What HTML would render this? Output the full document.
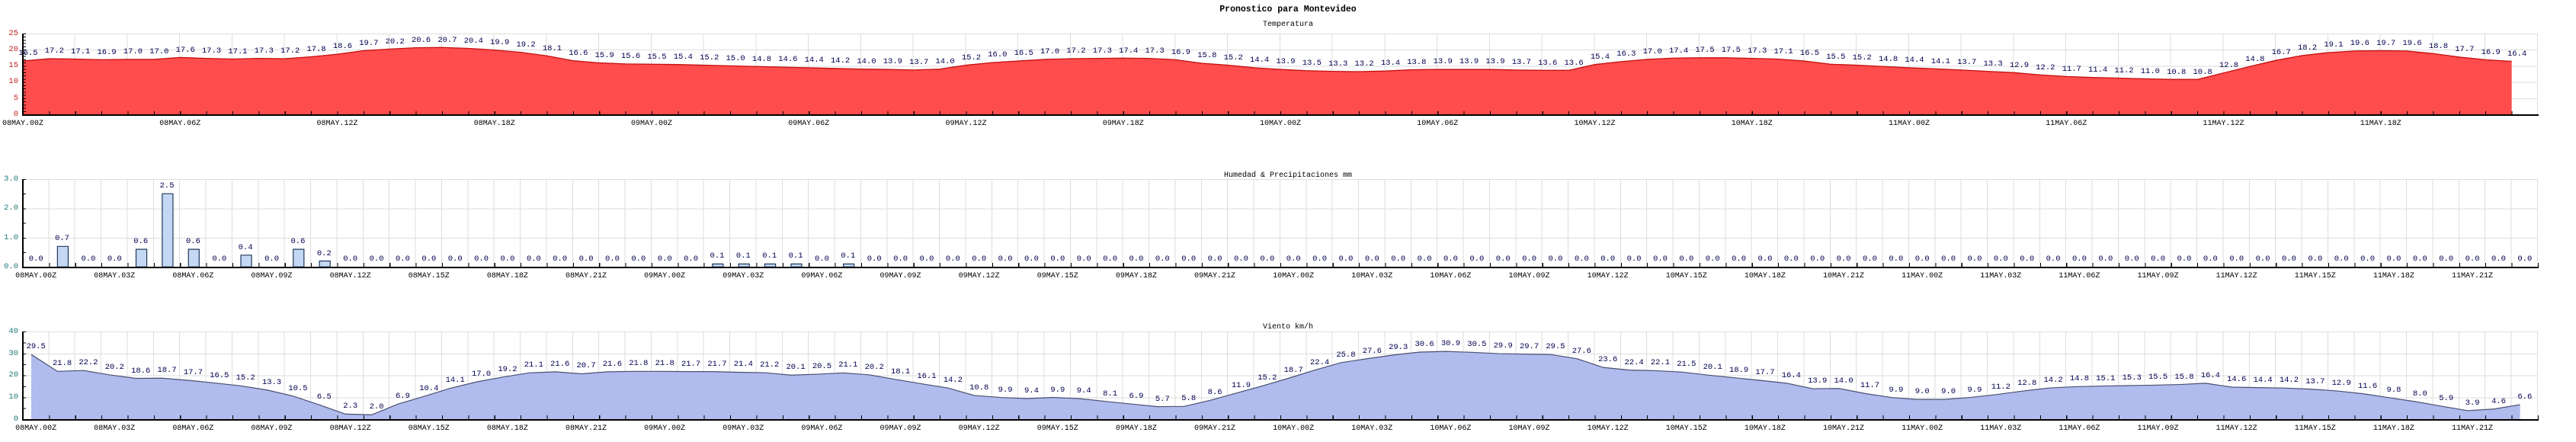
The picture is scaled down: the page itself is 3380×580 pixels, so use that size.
<!DOCTYPE html>
<html><head><meta charset="utf-8"><style>
body{margin:0;background:#fff;width:3380px;height:580px;overflow:hidden;position:relative;font-family:"Liberation Mono","DejaVu Sans Mono",monospace;}
.a{position:absolute}
.row{position:absolute;top:0;display:flex;height:0;font-size:10.5px;line-height:12px;color:#000050}
.row i{font-style:normal;flex:none;width:34.375px;text-align:center;position:relative;top:calc(var(--b) - var(--v)*var(--k));white-space:nowrap}
.xl{position:absolute;display:flex;font-size:10px;line-height:12px;color:#000}
.xl span{flex:none;text-align:center;white-space:nowrap}
.yl{position:absolute;width:24px;left:0;text-align:right;font-size:10.5px;line-height:12px}
.ttl{position:absolute;left:0;width:3380px;text-align:center;color:#000}
</style></head><body>
<div class="ttl" style="top:6px;font-weight:bold;font-size:11.5px;line-height:14px">Pronostico para Montevideo</div>
<div class="ttl" style="top:27px;font-size:10px;line-height:12px">Temperatura</div>
<div class="ttl" style="top:225px;font-size:10px;line-height:12px">Humedad &amp; Precipitaciones mm</div>
<div class="ttl" style="top:424px;font-size:10px;line-height:12px">Viento km/h</div>

<!-- grids -->
<div class="a" style="left:30px;top:43.5px;width:3300px;height:107px;background:repeating-linear-gradient(to right,transparent 0 67.75px,#ddd 67.75px 68.75px),repeating-linear-gradient(to bottom,#ddd 0 1px,transparent 1px 21.2px)"></div>
<div class="a" style="left:30px;top:235px;width:3300px;height:115.5px;background:repeating-linear-gradient(to right,transparent 0 33.375px,#ddd 33.375px 34.375px),repeating-linear-gradient(to bottom,#ddd 0 1px,transparent 1px 38.4px)"></div>
<div class="a" style="left:30px;top:435px;width:3300px;height:115.5px;background:repeating-linear-gradient(to right,transparent 0 33.375px,#ddd 33.375px 34.375px),repeating-linear-gradient(to bottom,#ddd 0 1px,transparent 1px 28.75px)"></div>

<!-- temperature series -->
<svg class="a" style="left:30px;top:44.3px" width="3300" height="106" viewBox="0 0 96 25" preserveAspectRatio="none">
<g transform="translate(0,25) scale(1,-1)">
<polygon fill="#ff4c4c" points="0,0 0,16.5 1,17.2 2,17.1 3,16.9 4,17.0 5,17.0 6,17.6 7,17.3 8,17.1 9,17.3 10,17.2 11,17.8 12,18.6 13,19.7 14,20.2 15,20.6 16,20.7 17,20.4 18,19.9 19,19.2 20,18.1 21,16.6 22,15.9 23,15.6 24,15.5 25,15.4 26,15.2 27,15.0 28,14.8 29,14.6 30,14.4 31,14.2 32,14.0 33,13.9 34,13.7 35,14.0 36,15.2 37,16.0 38,16.5 39,17.0 40,17.2 41,17.3 42,17.4 43,17.3 44,16.9 45,15.8 46,15.2 47,14.4 48,13.9 49,13.5 50,13.3 51,13.2 52,13.4 53,13.8 54,13.9 55,13.9 56,13.9 57,13.7 58,13.6 59,13.6 60,15.4 61,16.3 62,17.0 63,17.4 64,17.5 65,17.5 66,17.3 67,17.1 68,16.5 69,15.5 70,15.2 71,14.8 72,14.4 73,14.1 74,13.7 75,13.3 76,12.9 77,12.2 78,11.7 79,11.4 80,11.2 81,11.0 82,10.8 83,10.8 84,12.8 85,14.8 86,16.7 87,18.2 88,19.1 89,19.6 90,19.7 91,19.6 92,18.8 93,17.7 94,16.9 95,16.4 95,0"/>
<polyline fill="none" stroke="#c41010" stroke-width="1.3" vector-effect="non-scaling-stroke" points="0,16.5 1,17.2 2,17.1 3,16.9 4,17.0 5,17.0 6,17.6 7,17.3 8,17.1 9,17.3 10,17.2 11,17.8 12,18.6 13,19.7 14,20.2 15,20.6 16,20.7 17,20.4 18,19.9 19,19.2 20,18.1 21,16.6 22,15.9 23,15.6 24,15.5 25,15.4 26,15.2 27,15.0 28,14.8 29,14.6 30,14.4 31,14.2 32,14.0 33,13.9 34,13.7 35,14.0 36,15.2 37,16.0 38,16.5 39,17.0 40,17.2 41,17.3 42,17.4 43,17.3 44,16.9 45,15.8 46,15.2 47,14.4 48,13.9 49,13.5 50,13.3 51,13.2 52,13.4 53,13.8 54,13.9 55,13.9 56,13.9 57,13.7 58,13.6 59,13.6 60,15.4 61,16.3 62,17.0 63,17.4 64,17.5 65,17.5 66,17.3 67,17.1 68,16.5 69,15.5 70,15.2 71,14.8 72,14.4 73,14.1 74,13.7 75,13.3 76,12.9 77,12.2 78,11.7 79,11.4 80,11.2 81,11.0 82,10.8 83,10.8 84,12.8 85,14.8 86,16.7 87,18.2 88,19.1 89,19.6 90,19.7 91,19.6 92,18.8 93,17.7 94,16.9 95,16.4"/>
</g></svg>

<!-- precip bars -->
<svg class="a" style="left:30px;top:235.1px" width="3300" height="115.2" viewBox="0 0 96 3" preserveAspectRatio="none">
<g transform="translate(0,3) scale(1,-1)" fill="#c4d8f4" stroke="#203a5a" stroke-width="1.2" vector-effect="non-scaling-stroke">
<rect x="1.32" y="0" width="0.41" height="0.7" vector-effect="non-scaling-stroke"/>
<rect x="4.32" y="0" width="0.41" height="0.6" vector-effect="non-scaling-stroke"/>
<rect x="5.32" y="0" width="0.41" height="2.5" vector-effect="non-scaling-stroke"/>
<rect x="6.32" y="0" width="0.41" height="0.6" vector-effect="non-scaling-stroke"/>
<rect x="8.32" y="0" width="0.41" height="0.4" vector-effect="non-scaling-stroke"/>
<rect x="10.32" y="0" width="0.41" height="0.6" vector-effect="non-scaling-stroke"/>
<rect x="11.32" y="0" width="0.41" height="0.2" vector-effect="non-scaling-stroke"/>
<rect x="26.32" y="0" width="0.41" height="0.1" vector-effect="non-scaling-stroke"/>
<rect x="27.32" y="0" width="0.41" height="0.1" vector-effect="non-scaling-stroke"/>
<rect x="28.32" y="0" width="0.41" height="0.1" vector-effect="non-scaling-stroke"/>
<rect x="29.32" y="0" width="0.41" height="0.1" vector-effect="non-scaling-stroke"/>
<rect x="31.32" y="0" width="0.41" height="0.1" vector-effect="non-scaling-stroke"/>
</g></svg>

<!-- wind series -->
<svg class="a" style="left:30px;top:435px" width="3300" height="115" viewBox="0 0 96 40" preserveAspectRatio="none">
<g transform="translate(0.32,40) scale(1,-1)">
<polygon fill="#b0bbee" points="0,0 0,29.5 1,21.8 2,22.2 3,20.2 4,18.6 5,18.7 6,17.7 7,16.5 8,15.2 9,13.3 10,10.5 11,6.5 12,2.3 13,2.0 14,6.9 15,10.4 16,14.1 17,17.0 18,19.2 19,21.1 20,21.6 21,20.7 22,21.6 23,21.8 24,21.8 25,21.7 26,21.7 27,21.4 28,21.2 29,20.1 30,20.5 31,21.1 32,20.2 33,18.1 34,16.1 35,14.2 36,10.8 37,9.9 38,9.4 39,9.9 40,9.4 41,8.1 42,6.9 43,5.7 44,5.8 45,8.6 46,11.9 47,15.2 48,18.7 49,22.4 50,25.8 51,27.6 52,29.3 53,30.6 54,30.9 55,30.5 56,29.9 57,29.7 58,29.5 59,27.6 60,23.6 61,22.4 62,22.1 63,21.5 64,20.1 65,18.9 66,17.7 67,16.4 68,13.9 69,14.0 70,11.7 71,9.9 72,9.0 73,9.0 74,9.9 75,11.2 76,12.8 77,14.2 78,14.8 79,15.1 80,15.3 81,15.5 82,15.8 83,16.4 84,14.6 85,14.4 86,14.2 87,13.7 88,12.9 89,11.6 90,9.8 91,8.0 92,5.9 93,3.9 94,4.6 95,6.6 95,0"/>
<polyline fill="none" stroke="#4a5070" stroke-width="1.2" vector-effect="non-scaling-stroke" points="0,29.5 1,21.8 2,22.2 3,20.2 4,18.6 5,18.7 6,17.7 7,16.5 8,15.2 9,13.3 10,10.5 11,6.5 12,2.3 13,2.0 14,6.9 15,10.4 16,14.1 17,17.0 18,19.2 19,21.1 20,21.6 21,20.7 22,21.6 23,21.8 24,21.8 25,21.7 26,21.7 27,21.4 28,21.2 29,20.1 30,20.5 31,21.1 32,20.2 33,18.1 34,16.1 35,14.2 36,10.8 37,9.9 38,9.4 39,9.9 40,9.4 41,8.1 42,6.9 43,5.7 44,5.8 45,8.6 46,11.9 47,15.2 48,18.7 49,22.4 50,25.8 51,27.6 52,29.3 53,30.6 54,30.9 55,30.5 56,29.9 57,29.7 58,29.5 59,27.6 60,23.6 61,22.4 62,22.1 63,21.5 64,20.1 65,18.9 66,17.7 67,16.4 68,13.9 69,14.0 70,11.7 71,9.9 72,9.0 73,9.0 74,9.9 75,11.2 76,12.8 77,14.2 78,14.8 79,15.1 80,15.3 81,15.5 82,15.8 83,16.4 84,14.6 85,14.4 86,14.2 87,13.7 88,12.9 89,11.6 90,9.8 91,8.0 92,5.9 93,3.9 94,4.6 95,6.6"/>
</g></svg>

<!-- axes -->
<div class="a" style="left:29px;top:43.5px;width:1.5px;height:107.5px;background:#000"></div>
<div class="a" style="left:29px;top:149.5px;width:3302px;height:2px;background:#000"></div>
<div class="a" style="left:30px;top:146px;width:3300px;height:4px;background:repeating-linear-gradient(to right,#000 0 1px,transparent 1px 34.375px)"></div>
<div class="a" style="left:30px;top:44.3px;width:4px;height:106px;background:repeating-linear-gradient(to bottom,#000 0 1px,transparent 1px 4.24px)"></div>

<div class="a" style="left:29px;top:235px;width:1.5px;height:116px;background:#000"></div>
<div class="a" style="left:29px;top:349.5px;width:3302px;height:2px;background:#000"></div>
<div class="a" style="left:30px;top:345px;width:3301px;height:5px;background:repeating-linear-gradient(to right,#000 0 1px,transparent 1px 34.375px)"></div>
<div class="a" style="left:30px;top:235px;width:4px;height:115px;background:repeating-linear-gradient(to bottom,#000 0 1px,transparent 1px 19.2px)"></div>

<div class="a" style="left:29px;top:435px;width:1.5px;height:116px;background:#000"></div>
<div class="a" style="left:29px;top:549.5px;width:3302px;height:2px;background:#000"></div>
<div class="a" style="left:30px;top:545px;width:3301px;height:5px;background:repeating-linear-gradient(to right,#000 0 1px,transparent 1px 34.375px)"></div>
<div class="a" style="left:30px;top:435px;width:4px;height:115px;background:repeating-linear-gradient(to bottom,#000 0 1px,transparent 1px 14.375px)"></div>

<!-- y labels -->
<div style="color:#c02020">
<div class="yl" style="top:38px">25</div><div class="yl" style="top:59px">20</div><div class="yl" style="top:80px">15</div><div class="yl" style="top:101px">10</div><div class="yl" style="top:123px">5</div><div class="yl" style="top:144px">0</div>
</div>
<div style="color:#207878">
<div class="yl" style="top:229px">3.0</div><div class="yl" style="top:267px">2.0</div><div class="yl" style="top:306px">1.0</div><div class="yl" style="top:344px">0.0</div>
<div class="yl" style="top:429px">40</div><div class="yl" style="top:458px">30</div><div class="yl" style="top:486px">20</div><div class="yl" style="top:515px">10</div><div class="yl" style="top:544px">0</div>
</div>

<!-- temp value labels -->
<div class="row" style="left:19.8px;--b:134.3px;--k:4.24px">
<i style="--v:16.5">16.5</i><i style="--v:17.2">17.2</i><i style="--v:17.1">17.1</i><i style="--v:16.9">16.9</i><i style="--v:17.0">17.0</i><i style="--v:17.0">17.0</i><i style="--v:17.6">17.6</i><i style="--v:17.3">17.3</i><i style="--v:17.1">17.1</i><i style="--v:17.3">17.3</i><i style="--v:17.2">17.2</i><i style="--v:17.8">17.8</i><i style="--v:18.6">18.6</i><i style="--v:19.7">19.7</i><i style="--v:20.2">20.2</i><i style="--v:20.6">20.6</i><i style="--v:20.7">20.7</i><i style="--v:20.4">20.4</i><i style="--v:19.9">19.9</i><i style="--v:19.2">19.2</i><i style="--v:18.1">18.1</i><i style="--v:16.6">16.6</i><i style="--v:15.9">15.9</i><i style="--v:15.6">15.6</i><i style="--v:15.5">15.5</i><i style="--v:15.4">15.4</i><i style="--v:15.2">15.2</i><i style="--v:15.0">15.0</i><i style="--v:14.8">14.8</i><i style="--v:14.6">14.6</i><i style="--v:14.4">14.4</i><i style="--v:14.2">14.2</i><i style="--v:14.0">14.0</i><i style="--v:13.9">13.9</i><i style="--v:13.7">13.7</i><i style="--v:14.0">14.0</i><i style="--v:15.2">15.2</i><i style="--v:16.0">16.0</i><i style="--v:16.5">16.5</i><i style="--v:17.0">17.0</i><i style="--v:17.2">17.2</i><i style="--v:17.3">17.3</i><i style="--v:17.4">17.4</i><i style="--v:17.3">17.3</i><i style="--v:16.9">16.9</i><i style="--v:15.8">15.8</i><i style="--v:15.2">15.2</i><i style="--v:14.4">14.4</i><i style="--v:13.9">13.9</i><i style="--v:13.5">13.5</i><i style="--v:13.3">13.3</i><i style="--v:13.2">13.2</i><i style="--v:13.4">13.4</i><i style="--v:13.8">13.8</i><i style="--v:13.9">13.9</i><i style="--v:13.9">13.9</i><i style="--v:13.9">13.9</i><i style="--v:13.7">13.7</i><i style="--v:13.6">13.6</i><i style="--v:13.6">13.6</i><i style="--v:15.4">15.4</i><i style="--v:16.3">16.3</i><i style="--v:17.0">17.0</i><i style="--v:17.4">17.4</i><i style="--v:17.5">17.5</i><i style="--v:17.5">17.5</i><i style="--v:17.3">17.3</i><i style="--v:17.1">17.1</i><i style="--v:16.5">16.5</i><i style="--v:15.5">15.5</i><i style="--v:15.2">15.2</i><i style="--v:14.8">14.8</i><i style="--v:14.4">14.4</i><i style="--v:14.1">14.1</i><i style="--v:13.7">13.7</i><i style="--v:13.3">13.3</i><i style="--v:12.9">12.9</i><i style="--v:12.2">12.2</i><i style="--v:11.7">11.7</i><i style="--v:11.4">11.4</i><i style="--v:11.2">11.2</i><i style="--v:11.0">11.0</i><i style="--v:10.8">10.8</i><i style="--v:10.8">10.8</i><i style="--v:12.8">12.8</i><i style="--v:14.8">14.8</i><i style="--v:16.7">16.7</i><i style="--v:18.2">18.2</i><i style="--v:19.1">19.1</i><i style="--v:19.6">19.6</i><i style="--v:19.7">19.7</i><i style="--v:19.6">19.6</i><i style="--v:18.8">18.8</i><i style="--v:17.7">17.7</i><i style="--v:16.9">16.9</i><i style="--v:16.4">16.4</i>
</div>

<!-- precip value labels -->
<div class="row" style="left:30px;--b:334.3px;--k:38.4px">
<i style="--v:0">0.0</i><i style="--v:0.7">0.7</i><i style="--v:0">0.0</i><i style="--v:0">0.0</i><i style="--v:0.6">0.6</i><i style="--v:2.5">2.5</i><i style="--v:0.6">0.6</i><i style="--v:0">0.0</i><i style="--v:0.4">0.4</i><i style="--v:0">0.0</i><i style="--v:0.6">0.6</i><i style="--v:0.2">0.2</i><i style="--v:0">0.0</i><i style="--v:0">0.0</i><i style="--v:0">0.0</i><i style="--v:0">0.0</i><i style="--v:0">0.0</i><i style="--v:0">0.0</i><i style="--v:0">0.0</i><i style="--v:0">0.0</i><i style="--v:0">0.0</i><i style="--v:0">0.0</i><i style="--v:0">0.0</i><i style="--v:0">0.0</i><i style="--v:0">0.0</i><i style="--v:0">0.0</i><i style="--v:0.1">0.1</i><i style="--v:0.1">0.1</i><i style="--v:0.1">0.1</i><i style="--v:0.1">0.1</i><i style="--v:0">0.0</i><i style="--v:0.1">0.1</i><i style="--v:0">0.0</i><i style="--v:0">0.0</i><i style="--v:0">0.0</i><i style="--v:0">0.0</i><i style="--v:0">0.0</i><i style="--v:0">0.0</i><i style="--v:0">0.0</i><i style="--v:0">0.0</i><i style="--v:0">0.0</i><i style="--v:0">0.0</i><i style="--v:0">0.0</i><i style="--v:0">0.0</i><i style="--v:0">0.0</i><i style="--v:0">0.0</i><i style="--v:0">0.0</i><i style="--v:0">0.0</i><i style="--v:0">0.0</i><i style="--v:0">0.0</i><i style="--v:0">0.0</i><i style="--v:0">0.0</i><i style="--v:0">0.0</i><i style="--v:0">0.0</i><i style="--v:0">0.0</i><i style="--v:0">0.0</i><i style="--v:0">0.0</i><i style="--v:0">0.0</i><i style="--v:0">0.0</i><i style="--v:0">0.0</i><i style="--v:0">0.0</i><i style="--v:0">0.0</i><i style="--v:0">0.0</i><i style="--v:0">0.0</i><i style="--v:0">0.0</i><i style="--v:0">0.0</i><i style="--v:0">0.0</i><i style="--v:0">0.0</i><i style="--v:0">0.0</i><i style="--v:0">0.0</i><i style="--v:0">0.0</i><i style="--v:0">0.0</i><i style="--v:0">0.0</i><i style="--v:0">0.0</i><i style="--v:0">0.0</i><i style="--v:0">0.0</i><i style="--v:0">0.0</i><i style="--v:0">0.0</i><i style="--v:0">0.0</i><i style="--v:0">0.0</i><i style="--v:0">0.0</i><i style="--v:0">0.0</i><i style="--v:0">0.0</i><i style="--v:0">0.0</i><i style="--v:0">0.0</i><i style="--v:0">0.0</i><i style="--v:0">0.0</i><i style="--v:0">0.0</i><i style="--v:0">0.0</i><i style="--v:0">0.0</i><i style="--v:0">0.0</i><i style="--v:0">0.0</i><i style="--v:0">0.0</i><i style="--v:0">0.0</i><i style="--v:0">0.0</i><i style="--v:0">0.0</i>
</div>

<!-- wind value labels -->
<div class="row" style="left:30px;--b:534px;--k:2.875px">
<i style="--v:29.5">29.5</i><i style="--v:21.8">21.8</i><i style="--v:22.2">22.2</i><i style="--v:20.2">20.2</i><i style="--v:18.6">18.6</i><i style="--v:18.7">18.7</i><i style="--v:17.7">17.7</i><i style="--v:16.5">16.5</i><i style="--v:15.2">15.2</i><i style="--v:13.3">13.3</i><i style="--v:10.5">10.5</i><i style="--v:6.5">6.5</i><i style="--v:2.3">2.3</i><i style="--v:2.0">2.0</i><i style="--v:6.9">6.9</i><i style="--v:10.4">10.4</i><i style="--v:14.1">14.1</i><i style="--v:17.0">17.0</i><i style="--v:19.2">19.2</i><i style="--v:21.1">21.1</i><i style="--v:21.6">21.6</i><i style="--v:20.7">20.7</i><i style="--v:21.6">21.6</i><i style="--v:21.8">21.8</i><i style="--v:21.8">21.8</i><i style="--v:21.7">21.7</i><i style="--v:21.7">21.7</i><i style="--v:21.4">21.4</i><i style="--v:21.2">21.2</i><i style="--v:20.1">20.1</i><i style="--v:20.5">20.5</i><i style="--v:21.1">21.1</i><i style="--v:20.2">20.2</i><i style="--v:18.1">18.1</i><i style="--v:16.1">16.1</i><i style="--v:14.2">14.2</i><i style="--v:10.8">10.8</i><i style="--v:9.9">9.9</i><i style="--v:9.4">9.4</i><i style="--v:9.9">9.9</i><i style="--v:9.4">9.4</i><i style="--v:8.1">8.1</i><i style="--v:6.9">6.9</i><i style="--v:5.7">5.7</i><i style="--v:5.8">5.8</i><i style="--v:8.6">8.6</i><i style="--v:11.9">11.9</i><i style="--v:15.2">15.2</i><i style="--v:18.7">18.7</i><i style="--v:22.4">22.4</i><i style="--v:25.8">25.8</i><i style="--v:27.6">27.6</i><i style="--v:29.3">29.3</i><i style="--v:30.6">30.6</i><i style="--v:30.9">30.9</i><i style="--v:30.5">30.5</i><i style="--v:29.9">29.9</i><i style="--v:29.7">29.7</i><i style="--v:29.5">29.5</i><i style="--v:27.6">27.6</i><i style="--v:23.6">23.6</i><i style="--v:22.4">22.4</i><i style="--v:22.1">22.1</i><i style="--v:21.5">21.5</i><i style="--v:20.1">20.1</i><i style="--v:18.9">18.9</i><i style="--v:17.7">17.7</i><i style="--v:16.4">16.4</i><i style="--v:13.9">13.9</i><i style="--v:14.0">14.0</i><i style="--v:11.7">11.7</i><i style="--v:9.9">9.9</i><i style="--v:9.0">9.0</i><i style="--v:9.0">9.0</i><i style="--v:9.9">9.9</i><i style="--v:11.2">11.2</i><i style="--v:12.8">12.8</i><i style="--v:14.2">14.2</i><i style="--v:14.8">14.8</i><i style="--v:15.1">15.1</i><i style="--v:15.3">15.3</i><i style="--v:15.5">15.5</i><i style="--v:15.8">15.8</i><i style="--v:16.4">16.4</i><i style="--v:14.6">14.6</i><i style="--v:14.4">14.4</i><i style="--v:14.2">14.2</i><i style="--v:13.7">13.7</i><i style="--v:12.9">12.9</i><i style="--v:11.6">11.6</i><i style="--v:9.8">9.8</i><i style="--v:8.0">8.0</i><i style="--v:5.9">5.9</i><i style="--v:3.9">3.9</i><i style="--v:4.6">4.6</i><i style="--v:6.6">6.6</i>
</div>

<!-- x labels top -->
<div class="xl" style="left:-73.125px;top:157px">
<span style="width:206.25px">08MAY.00Z</span><span style="width:206.25px">08MAY.06Z</span><span style="width:206.25px">08MAY.12Z</span><span style="width:206.25px">08MAY.18Z</span><span style="width:206.25px">09MAY.00Z</span><span style="width:206.25px">09MAY.06Z</span><span style="width:206.25px">09MAY.12Z</span><span style="width:206.25px">09MAY.18Z</span><span style="width:206.25px">10MAY.00Z</span><span style="width:206.25px">10MAY.06Z</span><span style="width:206.25px">10MAY.12Z</span><span style="width:206.25px">10MAY.18Z</span><span style="width:206.25px">11MAY.00Z</span><span style="width:206.25px">11MAY.06Z</span><span style="width:206.25px">11MAY.12Z</span><span style="width:206.25px">11MAY.18Z</span>
</div>
<!-- x labels middle -->
<div class="xl" style="left:-4.375px;top:357px">
<span style="width:103.125px">08MAY.00Z</span><span style="width:103.125px">08MAY.03Z</span><span style="width:103.125px">08MAY.06Z</span><span style="width:103.125px">08MAY.09Z</span><span style="width:103.125px">08MAY.12Z</span><span style="width:103.125px">08MAY.15Z</span><span style="width:103.125px">08MAY.18Z</span><span style="width:103.125px">08MAY.21Z</span><span style="width:103.125px">09MAY.00Z</span><span style="width:103.125px">09MAY.03Z</span><span style="width:103.125px">09MAY.06Z</span><span style="width:103.125px">09MAY.09Z</span><span style="width:103.125px">09MAY.12Z</span><span style="width:103.125px">09MAY.15Z</span><span style="width:103.125px">09MAY.18Z</span><span style="width:103.125px">09MAY.21Z</span><span style="width:103.125px">10MAY.00Z</span><span style="width:103.125px">10MAY.03Z</span><span style="width:103.125px">10MAY.06Z</span><span style="width:103.125px">10MAY.09Z</span><span style="width:103.125px">10MAY.12Z</span><span style="width:103.125px">10MAY.15Z</span><span style="width:103.125px">10MAY.18Z</span><span style="width:103.125px">10MAY.21Z</span><span style="width:103.125px">11MAY.00Z</span><span style="width:103.125px">11MAY.03Z</span><span style="width:103.125px">11MAY.06Z</span><span style="width:103.125px">11MAY.09Z</span><span style="width:103.125px">11MAY.12Z</span><span style="width:103.125px">11MAY.15Z</span><span style="width:103.125px">11MAY.18Z</span><span style="width:103.125px">11MAY.21Z</span>
</div>
<!-- x labels wind -->
<div class="xl" style="left:-4.375px;top:557px">
<span style="width:103.125px">08MAY.00Z</span><span style="width:103.125px">08MAY.03Z</span><span style="width:103.125px">08MAY.06Z</span><span style="width:103.125px">08MAY.09Z</span><span style="width:103.125px">08MAY.12Z</span><span style="width:103.125px">08MAY.15Z</span><span style="width:103.125px">08MAY.18Z</span><span style="width:103.125px">08MAY.21Z</span><span style="width:103.125px">09MAY.00Z</span><span style="width:103.125px">09MAY.03Z</span><span style="width:103.125px">09MAY.06Z</span><span style="width:103.125px">09MAY.09Z</span><span style="width:103.125px">09MAY.12Z</span><span style="width:103.125px">09MAY.15Z</span><span style="width:103.125px">09MAY.18Z</span><span style="width:103.125px">09MAY.21Z</span><span style="width:103.125px">10MAY.00Z</span><span style="width:103.125px">10MAY.03Z</span><span style="width:103.125px">10MAY.06Z</span><span style="width:103.125px">10MAY.09Z</span><span style="width:103.125px">10MAY.12Z</span><span style="width:103.125px">10MAY.15Z</span><span style="width:103.125px">10MAY.18Z</span><span style="width:103.125px">10MAY.21Z</span><span style="width:103.125px">11MAY.00Z</span><span style="width:103.125px">11MAY.03Z</span><span style="width:103.125px">11MAY.06Z</span><span style="width:103.125px">11MAY.09Z</span><span style="width:103.125px">11MAY.12Z</span><span style="width:103.125px">11MAY.15Z</span><span style="width:103.125px">11MAY.18Z</span><span style="width:103.125px">11MAY.21Z</span>
</div>
</body></html>
